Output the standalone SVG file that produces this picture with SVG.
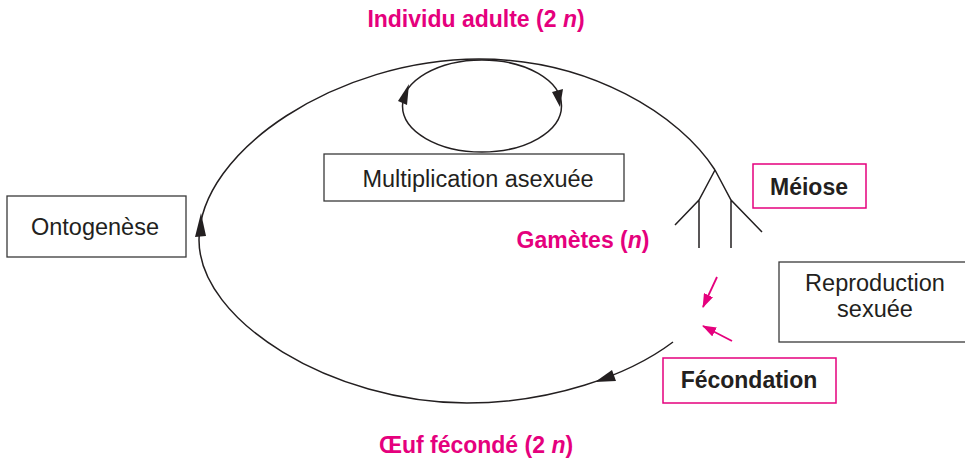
<svg xmlns="http://www.w3.org/2000/svg" width="965" height="462" viewBox="0 0 965 462">
<style>
  .box{fill:#fff;stroke:#3a3a3a;stroke-width:1.3}
  .pbox{fill:#fff;stroke:#e5007d;stroke-width:1.5}
  .t{font-family:"Liberation Sans",Arial,Helvetica,sans-serif;font-size:23.5px;fill:#231f20;text-anchor:middle}
  .b{font-family:"Liberation Sans",Arial,Helvetica,sans-serif;font-size:23px;font-weight:bold;text-anchor:middle}
  .pink{fill:#e5007d}
  .dark{fill:#231f20}
  .ln{fill:none;stroke:#231f20;stroke-width:1.5}
  .pl{fill:none;stroke:#e5007d;stroke-width:1.8}
  .ah{fill:#231f20}
</style>
<defs>
  <marker id="pa" viewBox="0 0 14 10" refX="13" refY="5" markerWidth="14" markerHeight="10" markerUnits="userSpaceOnUse" orient="auto">
    <path d="M0,0 L14,5 L0,10 Z" fill="#e5007d"/>
  </marker>
</defs>
<rect width="965" height="462" fill="#fff"/>

<g id="connectors">
  <path class="ln" d="M673,342 C628,376 550,403 467,403 C333,403 199,321.5 199,240 C199,150 339,59 479,59 C590,59 680,115 715,170"/>
  <polygon class="ah" points="595,382 612,370 616,381"/>
  <polygon class="ah" points="201,213 195,237 206,236"/>
  <ellipse class="ln" cx="482" cy="106" rx="79.5" ry="46"/>
  <polygon class="ah" points="409,84 398,101 407,105"/>
  <polygon class="ah" points="560,107 552,92 563,89"/>
  <path class="ln" d="M715,170 L699,200 L675,225 M699,200 L699,248 M715,170 L731,200 L762,232 M731,200 L731,248"/>
  <path class="pl" d="M717,277 L703,307" marker-end="url(#pa)"/>
  <path class="pl" d="M732,341 L703,326" marker-end="url(#pa)"/>
</g>

<g id="title-adulte"><text class="b pink" x="476" y="27">Individu adulte (2 <tspan font-style="italic">n</tspan>)</text></g>
<g id="title-oeuf"><text class="b pink" x="476" y="453">Œuf fécondé (2 <tspan font-style="italic">n</tspan>)</text></g>
<g id="gametes"><text class="b pink" x="583" y="248">Gamètes (<tspan font-style="italic">n</tspan>)</text></g>

<g id="ontogenese">
  <rect class="box" x="7" y="196" width="179" height="61"/>
  <text class="t" x="95" y="235">Ontogenèse</text>
</g>
<g id="multiplication">
  <rect class="box" x="324" y="154" width="300" height="47"/>
  <text class="t" x="478" y="187">Multiplication asexuée</text>
</g>
<g id="meiose">
  <rect class="pbox" x="753" y="164" width="113" height="44"/>
  <text class="b dark" x="809" y="195">Méiose</text>
</g>
<g id="reproduction">
  <rect class="box" x="779" y="262" width="195" height="80"/>
  <text class="t" x="875" y="291">Reproduction</text>
  <text class="t" x="875" y="317">sexuée</text>
</g>
<g id="fecondation">
  <rect class="pbox" x="663" y="358" width="173" height="45"/>
  <text class="b dark" x="749" y="388">Fécondation</text>
</g>
</svg>
